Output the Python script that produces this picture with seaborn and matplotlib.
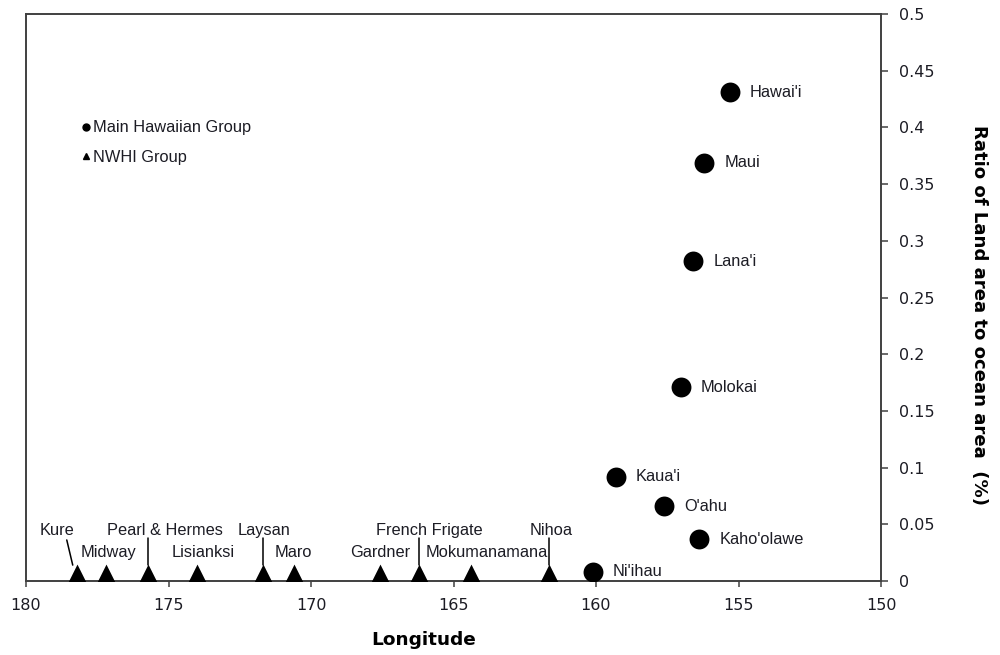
import matplotlib
matplotlib.use("Agg")
import matplotlib.pyplot as plt
from matplotlib.lines import Line2D
import pandas as pd
import seaborn as sns

# Main Hawaiian Group: longitude (deg W) and land/ocean area ratio (%)
main_islands = ["Hawai'i", "Maui", "Lana'i", "Molokai", "Kaua'i", "O'ahu", "Kaho'olawe", "Ni'ihau"]
main_lon = [155.30, 156.21, 156.59, 157.02, 159.30, 157.60, 156.38, 160.12]
main_ratio = [0.431, 0.369, 0.282, 0.171, 0.092, 0.066, 0.037, 0.008]

# Northwestern Hawaiian Islands (NWHI) group
nwhi_islands = ["Kure", "Midway", "Pearl & Hermes", "Lisianksi", "Laysan", "Maro",
                "Gardner", "French Frigate", "Mokumanamana", "Nihoa"]
nwhi_lon = [178.22, 177.19, 175.71, 174.00, 171.69, 170.59, 167.58, 166.21, 164.40, 161.64]
nwhi_ratio = [0.007, 0.007, 0.007, 0.007, 0.007, 0.007, 0.007, 0.007, 0.007, 0.007]

group_names = ["Main Hawaiian Group", "NWHI Group"]
x_ticks = [180, 175, 170, 165, 160, 155, 150]
y_ticks = [0, 0.05, 0.1, 0.15, 0.2, 0.25, 0.3, 0.35, 0.4, 0.45, 0.5]
y_tick_labels = ["0", "0.05", "0.1", "0.15", "0.2", "0.25", "0.3", "0.35", "0.4", "0.45", "0.5"]

main_df = pd.DataFrame({"island": main_islands, "lon": main_lon, "ratio": main_ratio})
nwhi_df = pd.DataFrame({"island": nwhi_islands, "lon": nwhi_lon, "ratio": nwhi_ratio})

# NWHI label placement: (label longitude, row height, leader style)
UPPER, LOWER = 0.0447, 0.0253
nwhi_label_layout = {
    "Kure": (178.91, UPPER, "diag"),
    "Midway": (177.12, LOWER, None),
    "Pearl & Hermes": (175.12, UPPER, "vert"),
    "Lisianksi": (173.79, LOWER, None),
    "Laysan": (171.65, UPPER, "vert"),
    "Maro": (170.63, LOWER, None),
    "Gardner": (167.58, LOWER, None),
    "French Frigate": (165.86, UPPER, "vert"),
    "Mokumanamana": (163.82, LOWER, None),
    "Nihoa": (161.58, UPPER, "vert"),
}

sns.set_theme(style="white")
plt.rcParams["font.family"] = ["DejaVu Sans"]

TEXT = "#1c1c24"
SPINE = "#404040"
LABEL_FONT = "Liberation Sans"

fig = plt.figure(figsize=(10, 6.55), dpi=100)
ax = fig.add_axes([0.026, 0.113, 0.855, 0.8656])

sns.scatterplot(data=main_df, x="lon", y="ratio", marker="o", s=205,
                color="black", edgecolor="black", linewidth=0, ax=ax, legend=False, zorder=3)
sns.scatterplot(data=nwhi_df, x="lon", y="ratio", marker="^", s=165,
                color="black", edgecolor="black", linewidth=0, ax=ax, legend=False, zorder=3)

ax.set_xlim(180, 150)
ax.set_ylim(0, 0.5)
ax.set_xticks(x_ticks)
ax.set_xticklabels([str(t) for t in x_ticks])
ax.set_yticks(y_ticks)
ax.set_yticklabels(y_tick_labels)

ax.yaxis.tick_right()
ax.yaxis.set_label_position("right")
ax.tick_params(axis="x", direction="out", length=4.5, width=1.1, color=SPINE,
               pad=8, labelsize=11.5, labelcolor=TEXT, bottom=True)
ax.tick_params(axis="y", direction="out", length=5, width=1.1, color=SPINE,
               pad=8, labelsize=11.5, labelcolor=TEXT, right=True, left=False)

for side in ["left", "right", "top", "bottom"]:
    ax.spines[side].set_visible(True)
    ax.spines[side].set_color(SPINE)
    ax.spines[side].set_linewidth(1.4)

ax.set_xlabel("Longitude", fontsize=13.3, fontweight="bold", color="black")
ax.xaxis.set_label_coords(0.4655, -0.088)
ax.set_ylabel("Ratio of Land area to ocean area  (%)", fontsize=13.1, fontweight="bold",
              color="black", rotation=270, va="center", ha="center")
ax.yaxis.set_label_coords(1.115, 0.469)

# labels for the main islands, to the right of each marker
for name, lon, r in zip(main_islands, main_lon, main_ratio):
    ax.annotate(name, xy=(lon, r), xytext=(14.5, 0), textcoords="offset points",
                ha="left", va="center", fontsize=11.8, family=LABEL_FONT, color=TEXT)

# labels and leader lines for the NWHI group
for name, lon, r in zip(nwhi_islands, nwhi_lon, nwhi_ratio):
    tx, ty, leader = nwhi_label_layout[name]
    ax.text(tx, ty, name, ha="center", va="center", fontsize=11.8,
            family=LABEL_FONT, color=TEXT)
    if leader == "vert":
        ax.plot([lon, lon], [0.0375, 0.0145], color="black", lw=1.1, zorder=2)
    elif leader == "diag":
        ax.plot([lon + 0.35, lon + 0.14], [0.0362, 0.0140], color="black", lw=1.1, zorder=2)

handles = [
    Line2D([], [], marker="o", linestyle="", color="black", markersize=5),
    Line2D([], [], marker="^", linestyle="", color="black", markersize=5),
]
leg = ax.legend(handles, group_names, loc="upper left", bbox_to_anchor=(0.0655, 0.8125),
                frameon=False, handlelength=0.5, handletextpad=0.15, labelspacing=0.9,
                borderpad=0, borderaxespad=0,
                prop={"family": LABEL_FONT, "size": 11.8})
for t in leg.get_texts():
    t.set_color(TEXT)

fig.savefig("out.png", dpi=100, facecolor="white")
